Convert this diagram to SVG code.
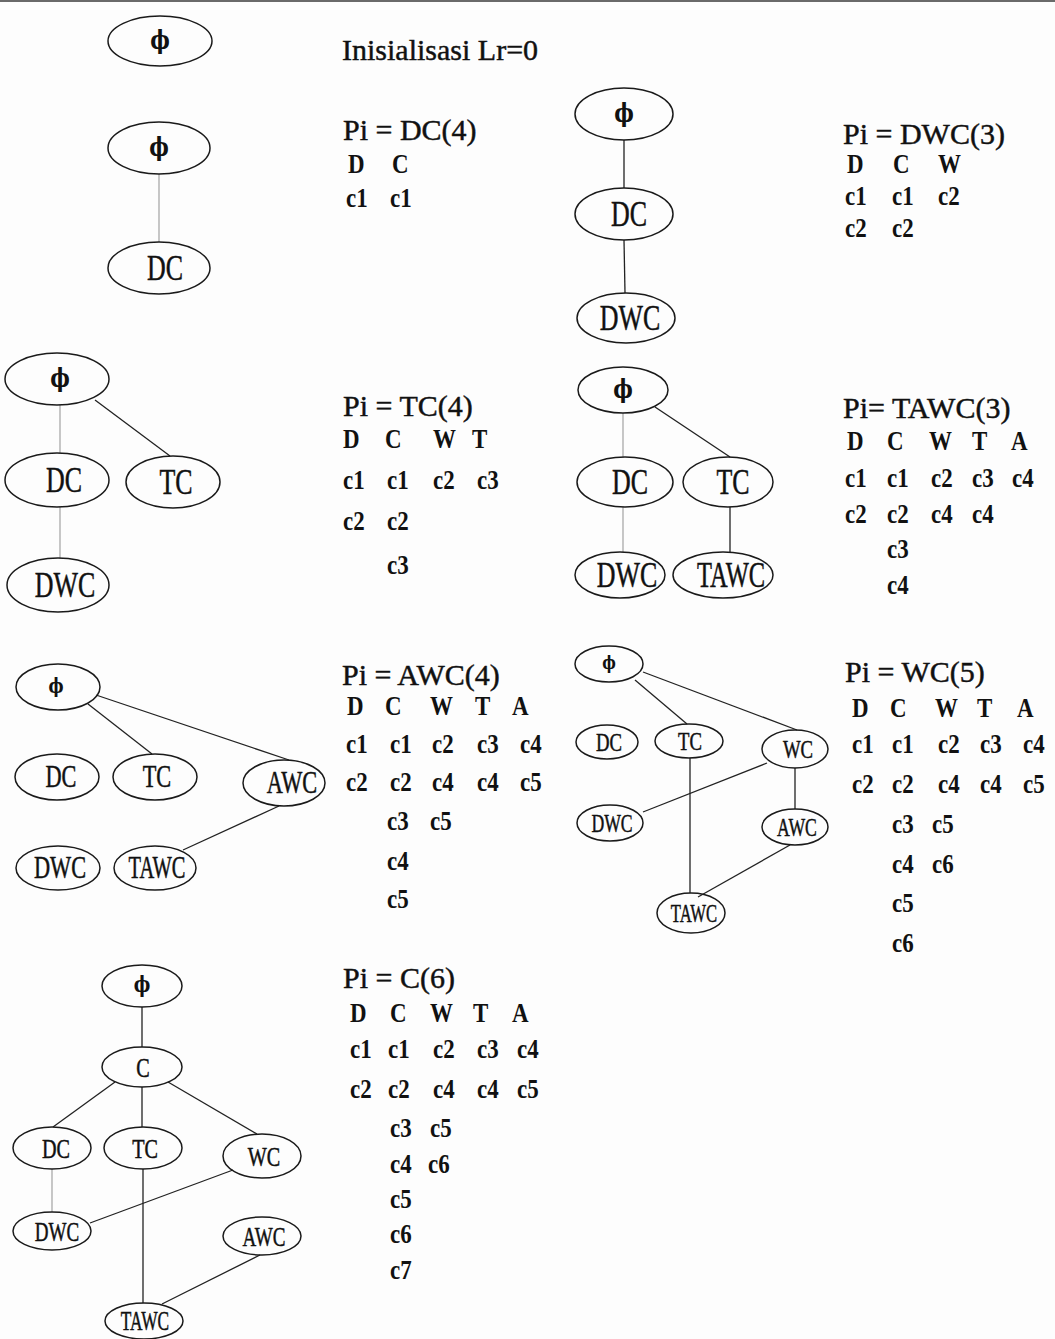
<svg xmlns="http://www.w3.org/2000/svg" width="1055" height="1339" viewBox="0 0 1055 1339">
<style>
  .bg{fill:#fdfdfd}
  .node ellipse{fill:none;stroke:#1a1a1a;stroke-width:1.5}
  .lbl{font-family:"Liberation Serif","Times New Roman",serif;fill:#111;stroke:#111;stroke-width:0.5;text-anchor:middle}
  .phi{font-family:"DejaVu Serif","Liberation Serif",serif;font-weight:bold;fill:#111;text-anchor:middle}
  .s36{font-size:36px}.s31{font-size:31px}.s28{font-size:28px}.s26{font-size:26px}
  .p28{font-size:26px}.p22{font-size:20px}.p18{font-size:18px}.p24{font-size:22px}
  .edge line{stroke:#222;stroke-width:1.3}
  .edge line.faint{stroke:#9a9a9a;stroke-width:1.1}
  .hdr{font-family:"Liberation Serif","Times New Roman",serif;font-size:30px;fill:#111;stroke:#111;stroke-width:0.45}
  .tbl{font-family:"Liberation Serif","Times New Roman",serif;font-size:27px;font-weight:bold;fill:#111}
</style>
<rect class="bg" x="0" y="0" width="1055" height="1339"/>
<rect x="0" y="0" width="1055" height="2" fill="#6a6a6a"/>

<g id="connectors" class="edge">
  <!-- panel 1 -->
  <line x1="159" y1="174" x2="159" y2="242" class="faint"/>
  <!-- panel 2 -->
  <line x1="624" y1="140" x2="624" y2="188"/>
  <line x1="624" y1="240" x2="625" y2="293"/>
  <!-- panel 3 -->
  <line x1="60" y1="405" x2="60" y2="453" class="faint"/>
  <line x1="95" y1="400" x2="170" y2="456"/>
  <line x1="60" y1="507" x2="60" y2="558" class="faint"/>
  <!-- panel 4 -->
  <line x1="623" y1="413" x2="623" y2="457" class="faint"/>
  <line x1="655" y1="407" x2="730" y2="457"/>
  <line x1="623" y1="507" x2="623" y2="552" class="faint"/>
  <line x1="730" y1="507" x2="730" y2="552"/>
  <!-- panel 5 -->
  <line x1="88" y1="704" x2="152" y2="754"/>
  <line x1="96" y1="695" x2="289" y2="760"/>
  <line x1="279" y1="806" x2="183" y2="850"/>
  <!-- panel 6 -->
  <line x1="635" y1="680" x2="687" y2="724"/>
  <line x1="643" y1="672" x2="797" y2="730"/>
  <line x1="767" y1="763" x2="643" y2="812"/>
  <line x1="795" y1="768" x2="795" y2="809"/>
  <line x1="690" y1="758" x2="690" y2="893"/>
  <line x1="790" y1="845" x2="698" y2="897"/>
  <!-- panel 7 -->
  <line x1="142" y1="1007" x2="142" y2="1047"/>
  <line x1="115" y1="1082" x2="53" y2="1127"/>
  <line x1="142" y1="1087" x2="142" y2="1127"/>
  <line x1="168" y1="1082" x2="257" y2="1134"/>
  <line x1="52" y1="1169" x2="52" y2="1212" class="faint"/>
  <line x1="233" y1="1170" x2="90" y2="1223"/>
  <line x1="143" y1="1169" x2="143" y2="1303"/>
  <line x1="260" y1="1255" x2="162" y2="1304"/>
</g>

<!-- panel 1 nodes -->
<g id="p1-phi-a" class="node"><ellipse cx="160" cy="41" rx="52" ry="25"/><text class="phi p28" transform="translate(160,49) scale(0.8,1)">ϕ</text></g>
<g id="p1-phi" class="node"><ellipse cx="159" cy="148" rx="51" ry="26"/><text class="phi p28" transform="translate(159,156) scale(0.8,1)">ϕ</text></g>
<g id="p1-DC" class="node"><ellipse cx="159" cy="268" rx="51" ry="26"/><text class="lbl s36" transform="translate(165,280) scale(0.72,1)">DC</text></g>

<!-- panel 2 nodes -->
<g id="p2-phi" class="node"><ellipse cx="624" cy="114" rx="49" ry="26"/><text class="phi p28" transform="translate(624,122) scale(0.8,1)">ϕ</text></g>
<g id="p2-DC" class="node"><ellipse cx="624" cy="214" rx="49" ry="26"/><text class="lbl s36" transform="translate(629,226) scale(0.72,1)">DC</text></g>
<g id="p2-DWC" class="node"><ellipse cx="626" cy="318" rx="49" ry="25"/><text class="lbl s36" transform="translate(630,330) scale(0.72,1)">DWC</text></g>

<!-- panel 3 nodes -->
<g id="p3-phi" class="node"><ellipse cx="57" cy="379" rx="52" ry="26"/><text class="phi p28" transform="translate(60,387) scale(0.8,1)">ϕ</text></g>
<g id="p3-DC" class="node"><ellipse cx="57" cy="480" rx="52" ry="27"/><text class="lbl s36" transform="translate(64,492) scale(0.72,1)">DC</text></g>
<g id="p3-TC" class="node"><ellipse cx="173" cy="482" rx="47" ry="26"/><text class="lbl s36" transform="translate(176,494) scale(0.72,1)">TC</text></g>
<g id="p3-DWC" class="node"><ellipse cx="58" cy="585" rx="51" ry="27"/><text class="lbl s36" transform="translate(65,597) scale(0.72,1)">DWC</text></g>

<!-- panel 4 nodes -->
<g id="p4-phi" class="node"><ellipse cx="623" cy="390" rx="45" ry="23"/><text class="phi p28" transform="translate(623,398) scale(0.8,1)">ϕ</text></g>
<g id="p4-DC" class="node"><ellipse cx="625" cy="482" rx="48" ry="25"/><text class="lbl s36" transform="translate(630,494) scale(0.72,1)">DC</text></g>
<g id="p4-TC" class="node"><ellipse cx="728" cy="482" rx="45" ry="25"/><text class="lbl s36" transform="translate(733,494) scale(0.72,1)">TC</text></g>
<g id="p4-DWC" class="node"><ellipse cx="620" cy="575" rx="45" ry="23"/><text class="lbl s36" transform="translate(627,587) scale(0.72,1)">DWC</text></g>
<g id="p4-TAWC" class="node"><ellipse cx="723" cy="575" rx="50" ry="23"/><text class="lbl s36" transform="translate(731,587) scale(0.68,1)">TAWC</text></g>

<!-- panel 5 nodes -->
<g id="p5-phi" class="node"><ellipse cx="58" cy="687" rx="42" ry="23"/><text class="phi p22" transform="translate(56,693) scale(0.8,1)">ϕ</text></g>
<g id="p5-DC" class="node"><ellipse cx="57" cy="777" rx="42" ry="23"/><text class="lbl s31" transform="translate(61,787) scale(0.72,1)">DC</text></g>
<g id="p5-TC" class="node"><ellipse cx="155" cy="777" rx="42" ry="23"/><text class="lbl s31" transform="translate(157,787) scale(0.72,1)">TC</text></g>
<g id="p5-AWC" class="node"><ellipse cx="284" cy="783" rx="41" ry="23"/><text class="lbl s31" transform="translate(292,793) scale(0.72,1)">AWC</text></g>
<g id="p5-DWC" class="node"><ellipse cx="58" cy="868" rx="42" ry="22"/><text class="lbl s31" transform="translate(60,878) scale(0.72,1)">DWC</text></g>
<g id="p5-TAWC" class="node"><ellipse cx="155" cy="868" rx="41" ry="22"/><text class="lbl s31" transform="translate(157,878) scale(0.66,1)">TAWC</text></g>

<!-- panel 6 nodes -->
<g id="p6-phi" class="node"><ellipse cx="609" cy="664" rx="34" ry="18"/><text class="phi p18" transform="translate(609,669) scale(0.8,1)">ϕ</text></g>
<g id="p6-DC" class="node"><ellipse cx="607" cy="742" rx="31" ry="17"/><text class="lbl s26" transform="translate(609,751) scale(0.72,1)">DC</text></g>
<g id="p6-TC" class="node"><ellipse cx="689" cy="741" rx="34" ry="17"/><text class="lbl s26" transform="translate(690,750) scale(0.72,1)">TC</text></g>
<g id="p6-WC" class="node"><ellipse cx="795" cy="749" rx="33" ry="19"/><text class="lbl s26" transform="translate(798,758) scale(0.72,1)">WC</text></g>
<g id="p6-DWC" class="node"><ellipse cx="610" cy="823" rx="33" ry="18"/><text class="lbl s26" transform="translate(612,832) scale(0.68,1)">DWC</text></g>
<g id="p6-AWC" class="node"><ellipse cx="795" cy="827" rx="33" ry="18"/><text class="lbl s26" transform="translate(797,836) scale(0.68,1)">AWC</text></g>
<g id="p6-TAWC" class="node"><ellipse cx="691" cy="913" rx="34" ry="20"/><text class="lbl s26" transform="translate(694,922) scale(0.64,1)">TAWC</text></g>

<!-- panel 7 nodes -->
<g id="p7-phi" class="node"><ellipse cx="142" cy="986" rx="40" ry="21"/><text class="phi p24" transform="translate(142,992) scale(0.8,1)">ϕ</text></g>
<g id="p7-C" class="node"><ellipse cx="142" cy="1067" rx="40" ry="20"/><text class="lbl s28" transform="translate(143,1077) scale(0.72,1)">C</text></g>
<g id="p7-DC" class="node"><ellipse cx="52" cy="1148" rx="39" ry="21"/><text class="lbl s28" transform="translate(56,1158) scale(0.72,1)">DC</text></g>
<g id="p7-TC" class="node"><ellipse cx="143" cy="1148" rx="39" ry="21"/><text class="lbl s28" transform="translate(145,1158) scale(0.72,1)">TC</text></g>
<g id="p7-WC" class="node"><ellipse cx="262" cy="1156" rx="39" ry="22"/><text class="lbl s28" transform="translate(264,1166) scale(0.72,1)">WC</text></g>
<g id="p7-DWC" class="node"><ellipse cx="52" cy="1231" rx="39" ry="19"/><text class="lbl s28" transform="translate(57,1241) scale(0.68,1)">DWC</text></g>
<g id="p7-AWC" class="node"><ellipse cx="262" cy="1236" rx="39" ry="19"/><text class="lbl s28" transform="translate(264,1246) scale(0.68,1)">AWC</text></g>
<g id="p7-TAWC" class="node"><ellipse cx="144" cy="1321" rx="39" ry="18"/><text class="lbl s28" transform="translate(145,1330) scale(0.62,1)">TAWC</text></g>

<!-- headers -->
<g id="headers">
  <text class="hdr" x="342" y="60">Inisialisasi Lr=0</text>
  <text class="hdr" x="343" y="140">Pi = DC(4)</text>
  <text class="hdr" x="843" y="144">Pi = DWC(3)</text>
  <text class="hdr" x="343" y="416">Pi = TC(4)</text>
  <text class="hdr" x="843" y="418">Pi= TAWC(3)</text>
  <text class="hdr" x="342" y="685">Pi = AWC(4)</text>
  <text class="hdr" x="845" y="682">Pi = WC(5)</text>
  <text class="hdr" x="343" y="988">Pi = C(6)</text>
</g>

<!-- tables (condensed) -->
<g id="tables" class="tbl" transform="scale(0.85,1)">
  <!-- panel 1 -->
  <text y="173"><tspan x="409.4">D</tspan><tspan x="461.2">C</tspan></text>
  <text y="207"><tspan x="407.1">c1</tspan><tspan x="458.8">c1</tspan></text>
  <!-- panel 2 -->
  <text y="173"><tspan x="996.5">D</tspan><tspan x="1050.6">C</tspan><tspan x="1103.5">W</tspan></text>
  <text y="205"><tspan x="994.1">c1</tspan><tspan x="1049.4">c1</tspan><tspan x="1103.5">c2</tspan></text>
  <text y="237"><tspan x="994.1">c2</tspan><tspan x="1049.4">c2</tspan></text>
  <!-- panel 3 -->
  <text y="448"><tspan x="403.5">D</tspan><tspan x="452.9">C</tspan><tspan x="509.4">W</tspan><tspan x="555.3">T</tspan></text>
  <text y="489"><tspan x="403.5">c1</tspan><tspan x="455.3">c1</tspan><tspan x="509.4">c2</tspan><tspan x="561.2">c3</tspan></text>
  <text y="530"><tspan x="403.5">c2</tspan><tspan x="455.3">c2</tspan></text>
  <text y="574"><tspan x="455.3">c3</tspan></text>
  <!-- panel 4 -->
  <text y="450"><tspan x="996.5">D</tspan><tspan x="1043.5">C</tspan><tspan x="1092.9">W</tspan><tspan x="1143.5">T</tspan><tspan x="1189.4">A</tspan></text>
  <text y="487"><tspan x="994.1">c1</tspan><tspan x="1043.5">c1</tspan><tspan x="1095.3">c2</tspan><tspan x="1143.5">c3</tspan><tspan x="1190.6">c4</tspan></text>
  <text y="523"><tspan x="994.1">c2</tspan><tspan x="1043.5">c2</tspan><tspan x="1095.3">c4</tspan><tspan x="1143.5">c4</tspan></text>
  <text y="558"><tspan x="1043.5">c3</tspan></text>
  <text y="594"><tspan x="1043.5">c4</tspan></text>
  <!-- panel 5 -->
  <text y="715"><tspan x="408.2">D</tspan><tspan x="452.9">C</tspan><tspan x="505.9">W</tspan><tspan x="558.8">T</tspan><tspan x="602.4">A</tspan></text>
  <text y="753"><tspan x="407.1">c1</tspan><tspan x="458.8">c1</tspan><tspan x="508.2">c2</tspan><tspan x="561.2">c3</tspan><tspan x="611.8">c4</tspan></text>
  <text y="791"><tspan x="407.1">c2</tspan><tspan x="458.8">c2</tspan><tspan x="508.2">c4</tspan><tspan x="561.2">c4</tspan><tspan x="611.8">c5</tspan></text>
  <text y="830"><tspan x="455.3">c3</tspan><tspan x="505.9">c5</tspan></text>
  <text y="870"><tspan x="455.3">c4</tspan></text>
  <text y="908"><tspan x="455.3">c5</tspan></text>
  <!-- panel 6 -->
  <text y="717"><tspan x="1002.4">D</tspan><tspan x="1047.1">C</tspan><tspan x="1100">W</tspan><tspan x="1149.4">T</tspan><tspan x="1196.5">A</tspan></text>
  <text y="753"><tspan x="1002.4">c1</tspan><tspan x="1049.4">c1</tspan><tspan x="1103.5">c2</tspan><tspan x="1152.9">c3</tspan><tspan x="1203.5">c4</tspan></text>
  <text y="793"><tspan x="1002.4">c2</tspan><tspan x="1049.4">c2</tspan><tspan x="1103.5">c4</tspan><tspan x="1152.9">c4</tspan><tspan x="1203.5">c5</tspan></text>
  <text y="833"><tspan x="1049.4">c3</tspan><tspan x="1096.5">c5</tspan></text>
  <text y="873"><tspan x="1049.4">c4</tspan><tspan x="1096.5">c6</tspan></text>
  <text y="912"><tspan x="1049.4">c5</tspan></text>
  <text y="952"><tspan x="1049.4">c6</tspan></text>
  <!-- panel 7 -->
  <text y="1022"><tspan x="411.8">D</tspan><tspan x="458.8">C</tspan><tspan x="505.9">W</tspan><tspan x="556.5">T</tspan><tspan x="602.4">A</tspan></text>
  <text y="1058"><tspan x="411.8">c1</tspan><tspan x="456.5">c1</tspan><tspan x="509.4">c2</tspan><tspan x="561.2">c3</tspan><tspan x="608.2">c4</tspan></text>
  <text y="1098"><tspan x="411.8">c2</tspan><tspan x="456.5">c2</tspan><tspan x="509.4">c4</tspan><tspan x="561.2">c4</tspan><tspan x="608.2">c5</tspan></text>
  <text y="1137"><tspan x="458.8">c3</tspan><tspan x="505.9">c5</tspan></text>
  <text y="1173"><tspan x="458.8">c4</tspan><tspan x="503.5">c6</tspan></text>
  <text y="1208"><tspan x="458.8">c5</tspan></text>
  <text y="1243"><tspan x="458.8">c6</tspan></text>
  <text y="1279"><tspan x="458.8">c7</tspan></text>
</g>
</svg>
